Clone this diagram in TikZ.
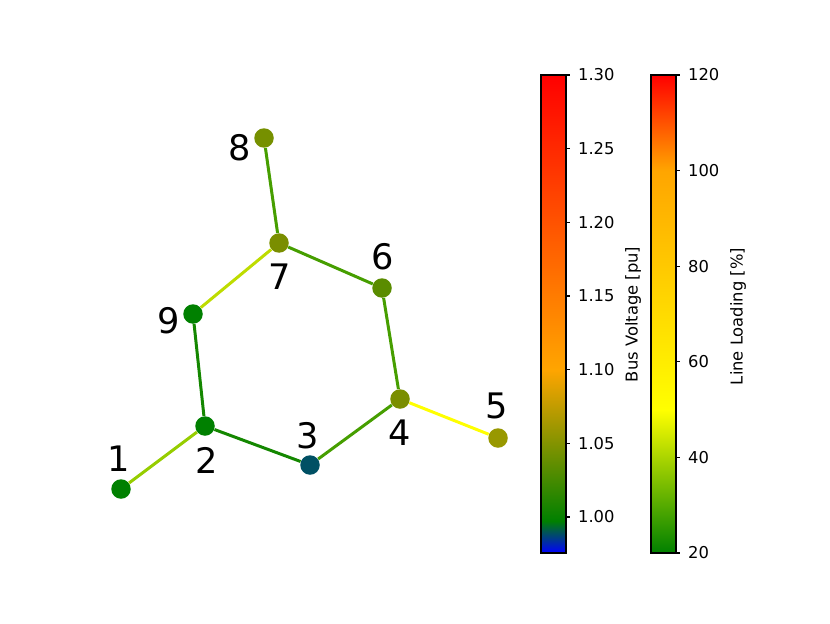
\documentclass[tikz,border=0pt]{standalone}
\usepackage{fontspec}
\setmainfont{DejaVu Sans}
\usepackage{tikz}

% bus colours
\definecolor{busgreen}{RGB}{0,128,0}
\definecolor{busteal}{RGB}{0,80,100}
\definecolor{busolive}{RGB}{122,142,0}
\definecolor{busfive}{RGB}{152,152,0}
\definecolor{bussix}{RGB}{90,140,0}
\definecolor{buseight}{RGB}{118,144,0}
% line colours
\definecolor{lnlime}{RGB}{150,205,0}
\definecolor{lnpale}{RGB}{190,220,0}
\definecolor{lndark}{RGB}{20,135,0}
\definecolor{lnmid}{RGB}{70,158,0}
\definecolor{lnyellow}{RGB}{255,255,0}
% colour bar stops
\definecolor{cbblue}{RGB}{0,0,255}
\definecolor{cbgreen}{RGB}{0,128,0}
\definecolor{cborange}{RGB}{255,165,0}
\definecolor{cbyellow}{RGB}{255,255,0}
\definecolor{cbred}{RGB}{255,0,0}

\begin{document}
\begin{tikzpicture}[x=0.02cm, y=0.02cm,
    bus/.style={circle, inner sep=0pt, minimum size=0.39cm},
    line/.style={line width=1.7pt},
    num/.style={font=\fontsize{20}{20}\selectfont, inner sep=0pt},
    ticklbl/.style={font=\fontsize{9.3}{9.3}\selectfont, anchor=west, inner sep=1pt},
    axlbl/.style={font=\fontsize{9.3}{9.3}\selectfont, rotate=90, inner sep=0pt},
    frame/.style={draw=black, line width=0.6pt}]
    \useasboundingbox (0,0) rectangle (830,623);

    % buses
    \node (b1) [bus, fill=busgreen] at (121,134) {};
    \node (b2) [bus, fill=busgreen] at (205,197) {};
    \node (b3) [bus, fill=busteal]  at (310,158) {};
    \node (b4) [bus, fill=busolive] at (400,224) {};
    \node (b5) [bus, fill=busfive]  at (498,185) {};
    \node (b6) [bus, fill=bussix]   at (382,335) {};
    \node (b7) [bus, fill=busolive] at (279,380) {};
    \node (b8) [bus, fill=buseight] at (264,485) {};
    \node (b9) [bus, fill=busgreen] at (193,309) {};

    % bus numbers
    \node (n1) [num] at (119,164) {1};
    \node (n2) [num] at (207,163) {2};
    \node (n3) [num] at (308,187) {3};
    \node (n4) [num] at (400,190) {4};
    \node (n5) [num] at (497,217) {5};
    \node (n6) [num] at (383,366) {6};
    \node (n7) [num] at (280,346) {7};
    \node (n8) [num] at (240,475) {8};
    \node (n9) [num] at (169,302) {9};

    % lines
    \draw[line, lnlime]   (b1) -- (b2);
    \draw[line, lndark]   (b2) -- (b3);
    \draw[line, lnmid]    (b3) -- (b4);
    \draw[line, lnyellow] (b4) -- (b5);
    \draw[line, lnmid]    (b4) -- (b6);
    \draw[line, lnmid]    (b6) -- (b7);
    \draw[line, lnmid]    (b7) -- (b8);
    \draw[line, lnpale]   (b7) -- (b9);
    \draw[line, lndark]   (b9) -- (b2);

    % bus voltage colour bar
    \shade[bottom color=cbblue, top color=cbgreen]    (541,70)  rectangle (566,102);
    \shade[bottom color=cbgreen, top color=cborange]  (541,102) rectangle (566,253.3);
    \shade[bottom color=cborange, top color=cbred]    (541,253.3) rectangle (566,548);
    \draw[frame] (541,70) rectangle (566,548);
    \foreach \val [count=\i from 0] in {1.00,1.05,1.10,1.15,1.20,1.25,1.30} {
        \draw[frame] (566,106+73.67*\i) -- (570,106+73.67*\i);
        \node (t\i) [ticklbl] at (576,106+73.67*\i) {\val};
    }
    \node (vlabel) [axlbl] at (633,308.5) {Bus Voltage [pu]};

    % line loading colour bar
    \shade[bottom color=cbgreen, top color=cbyellow]  (651,70)  rectangle (676,213);
    \shade[bottom color=cbyellow, top color=cborange] (651,213) rectangle (676,452.4);
    \shade[bottom color=cborange, top color=cbred]    (651,452.4) rectangle (676,548);
    \draw[frame] (651,70) rectangle (676,548);
    \foreach \val [count=\i from 0] in {20,40,60,80,100,120} {
        \draw[frame] (676,70+95.6*\i) -- (680,70+95.6*\i);
        \node (u\i) [ticklbl] at (686,70+95.6*\i) {\val};
    }
    \node (llabel) [axlbl] at (738,306.5) {Line Loading [\%]};
\end{tikzpicture}
\end{document}
